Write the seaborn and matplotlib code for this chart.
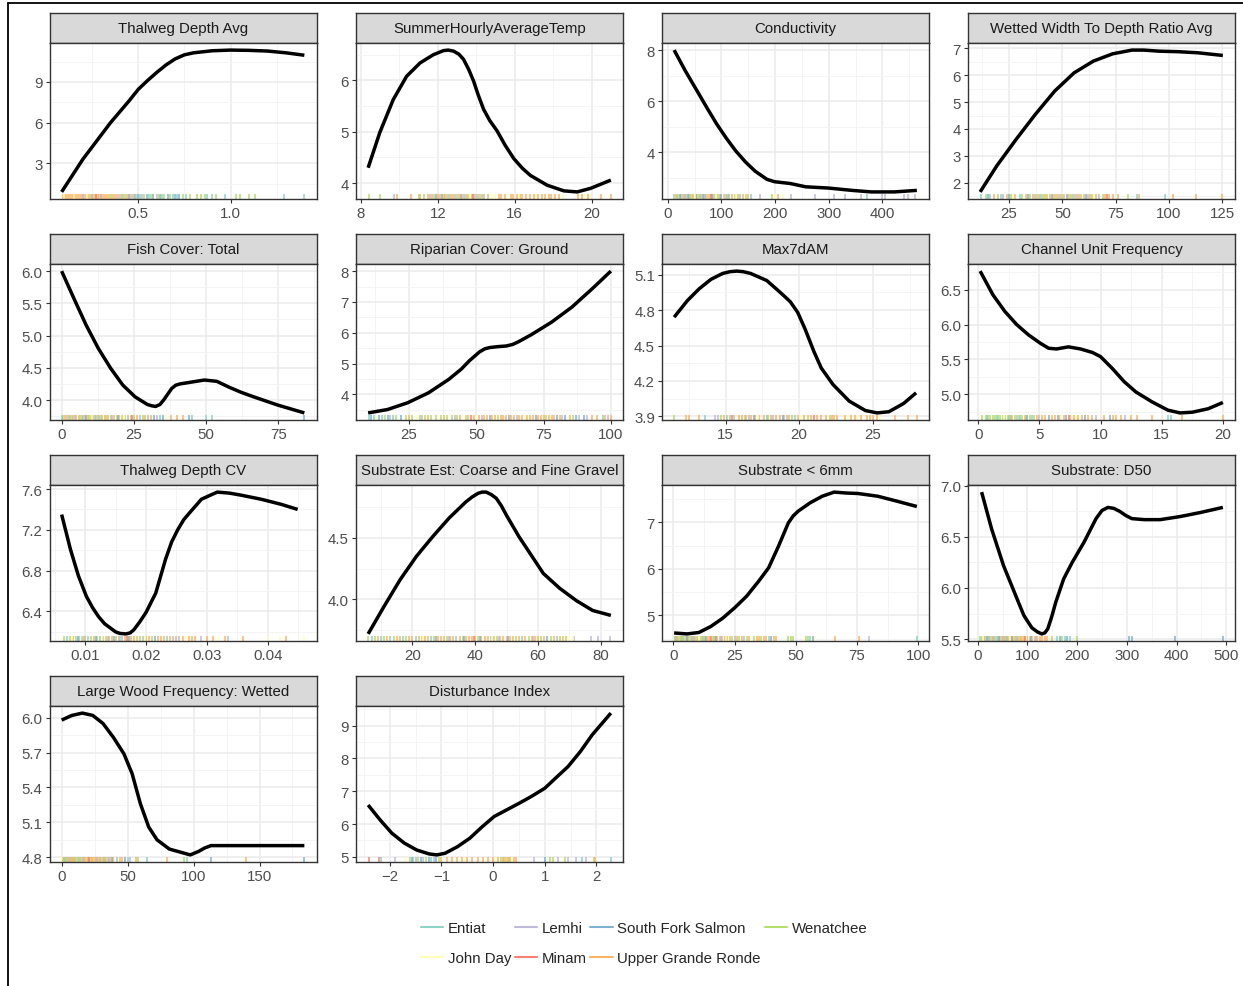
import numpy as np
import pandas as pd
import matplotlib
matplotlib.use("Agg")
import matplotlib.pyplot as plt
from matplotlib.lines import Line2D
import seaborn as sns

# ---------------------------------------------------------------- data
watersheds = ["Entiat", "John Day", "Lemhi", "Minam",
              "South Fork Salmon", "Upper Grande Ronde", "Wenatchee"]
ws_codes = ["ENT", "JD", "LEM", "MIN", "SFS", "UGR", "WEN"]
ws_colors = ["#8DD3C7", "#FFFFB3", "#BEBADA", "#FB8072",
             "#80B1D3", "#FDB462", "#B3DE69"]

# Thalweg Depth Avg
thalweg_avg_x = [0.085, 0.2, 0.35, 0.45, 0.5, 0.55, 0.6, 0.65, 0.7, 0.75, 0.8, 0.9, 1.0, 1.1, 1.2, 1.3, 1.4]
thalweg_avg_y = [0.89, 3.3, 6.0, 7.6, 8.45, 9.1, 9.7, 10.25, 10.7, 11.0, 11.15, 11.3, 11.35, 11.33, 11.28, 11.15, 10.97]
thalweg_avg_rug = {
    "UGR": [0.09, 0.10, 0.11, 0.12, 0.13, 0.14, 0.15, 0.16, 0.17, 0.18, 0.19, 0.20, 0.21, 0.22, 0.23, 0.24,
            0.25, 0.26, 0.27, 0.28, 0.29, 0.30, 0.31, 0.32, 0.33, 0.34, 0.36, 0.37, 0.38, 0.40, 0.42, 0.44, 0.46],
    "JD": [0.10, 0.15, 0.22, 0.35, 0.41],
    "MIN": [0.27],
    "LEM": [0.20, 0.30, 0.39, 0.47, 0.52, 0.60],
    "SFS": [0.45, 0.48, 0.50, 0.55, 0.58, 0.62, 0.66, 0.70, 0.72],
    "WEN": [0.35, 0.43, 0.49, 0.53, 0.57, 0.61, 0.64, 0.67, 0.74, 0.78, 0.82, 0.84, 0.86, 0.92, 1.03, 1.05, 1.10, 1.13],
    "ENT": [0.25, 0.41, 0.51, 0.56, 0.63, 0.69, 0.71, 0.76, 0.87, 0.90, 0.97, 1.29, 1.40],
}

# SummerHourlyAverageTemp
summer_temp_x = [8.38, 8.99, 9.69, 10.38, 11.08, 11.77, 12.30, 12.55, 12.82, 13.1, 13.34, 13.6, 13.86, 14.1,
                 14.38, 14.7, 15.08, 15.5, 15.95, 16.4, 16.82, 17.69, 18.56, 19.25, 19.95, 21.0]
summer_temp_y = [4.30, 4.99, 5.63, 6.08, 6.34, 6.50, 6.58, 6.59, 6.57, 6.51, 6.41, 6.22, 5.99, 5.72,
                 5.44, 5.22, 5.02, 4.74, 4.48, 4.29, 4.15, 3.96, 3.85, 3.83, 3.90, 4.06]
summer_temp_rug = {
    "WEN": [8.4, 9.0, 11.0, 11.3, 11.8, 12.4, 13.0, 13.6, 14.2],
    "UGR": [9.9, 10.6, 11.1, 11.5, 11.7, 12.0, 12.1, 12.3, 12.5, 12.7, 12.8, 13.1, 13.3, 13.5, 13.8, 14.0,
            14.3, 14.6, 15.2, 15.3, 15.5, 15.8, 15.9, 16.1, 16.3, 16.4, 16.6, 16.8, 17.0, 17.2, 17.4, 17.6,
            17.8, 17.9, 18.1, 18.3, 19.3, 19.5, 19.8, 20.5, 21.0],
    "LEM": [9.7, 11.6, 12.9, 14.1],
    "SFS": [11.9, 12.2, 13.2],
    "ENT": [12.6, 13.4, 13.9, 14.4],
    "JD": [13.7, 14.8, 15.0, 15.6, 16.2, 17.1, 18.5, 19.6, 19.9],
    "MIN": [13.85],
}

# Conductivity
conductivity_x = [12, 33, 55, 73, 91, 109, 127, 145, 163, 185, 199, 228, 257, 300, 343, 379, 422, 464]
conductivity_y = [8.0, 7.18, 6.39, 5.74, 5.11, 4.55, 4.04, 3.61, 3.25, 2.93, 2.84, 2.77, 2.64, 2.59, 2.50,
                  2.44, 2.44, 2.50]
conductivity_rug = {
    "UGR": [15, 20, 28, 35, 42, 48, 55, 62, 68, 72, 78, 85, 92, 98, 104, 112, 120, 130, 140, 150, 205],
    "ENT": [12, 25, 40, 60, 88, 115, 135, 155, 372],
    "WEN": [18, 30, 45, 58, 75, 95, 110, 125, 145, 195],
    "SFS": [22, 38, 52, 65, 82, 100],
    "LEM": [33, 70, 108, 172, 230, 275, 310, 330, 360, 400, 405, 440, 448, 460],
    "JD": [50, 90, 128, 200, 215],
    "MIN": [80],
}

# Wetted Width To Depth Ratio Avg
wetted_ratio_x = [11.4, 19.2, 28.3, 37.3, 46.4, 55.5, 64.6, 73.6, 82.7, 88.2, 95.4, 104.5, 113.6, 125.4]
wetted_ratio_y = [1.65, 2.62, 3.61, 4.54, 5.41, 6.09, 6.53, 6.80, 6.94, 6.94, 6.90, 6.88, 6.84, 6.74]
wetted_ratio_rug = {
    "ENT": [12, 16, 22, 30, 40, 55, 85, 98],
    "UGR": [18, 24, 28, 33, 36, 39, 42, 44, 46, 48, 51, 53, 56, 58, 60, 63, 66, 70, 72, 74, 76, 86, 102, 113, 125],
    "WEN": [14, 20, 26, 31, 35, 38, 41, 43, 47, 50, 54, 59, 64, 69, 81],
    "SFS": [15, 25, 34, 45, 52, 61],
    "LEM": [21, 37, 49, 57, 62, 67],
    "JD": [27, 65],
    "MIN": [71],
}

# Fish Cover: Total
fish_cover_x = [0, 4.2, 8.5, 12.7, 17, 21.2, 25.4, 29.7, 31.2, 32.5, 34.0, 35.3, 36.7, 38.1, 39.5, 41, 45.2,
                49.4, 53.7, 57.9, 62.1, 66.4, 74.9, 84]
fish_cover_y = [6.0, 5.58, 5.16, 4.80, 4.49, 4.23, 4.05, 3.93, 3.91, 3.90, 3.93, 4.0, 4.09, 4.18, 4.23, 4.25,
                4.28, 4.31, 4.29, 4.20, 4.12, 4.05, 3.92, 3.80]
fish_cover_rug = {
    "UGR": [1, 2, 3, 4, 5, 6, 7, 8, 9, 10, 11, 12, 14, 15, 16, 18, 20, 22, 24, 26, 29, 31, 38, 40, 42],
    "WEN": [0.5, 3.5, 6.5, 9.5, 12.5, 13.5, 15.5, 17, 19, 21, 25, 28],
    "ENT": [0, 2.5, 7.5, 11.5, 23, 30, 34, 45, 50, 52],
    "LEM": [4.5, 13, 17.5, 27, 33],
    "SFS": [8.5, 19.5, 32, 35, 44, 84],
    "JD": [10.5, 21.5, 36],
    "MIN": [24.5],
}

# Riparian Cover: Ground
riparian_x = [9.8, 17, 24.5, 32.2, 39.8, 44.4, 47.4, 51.2, 53.2, 55, 58, 61.1, 63.5, 65.7, 70.3, 77.9, 85.5,
              93.1, 100]
riparian_y = [3.40, 3.51, 3.73, 4.05, 4.49, 4.82, 5.09, 5.38, 5.48, 5.52, 5.55, 5.57, 5.62, 5.71, 5.93, 6.34,
              6.83, 7.43, 8.0]
riparian_rug = {
    "ENT": [10, 12, 15, 19, 97],
    "SFS": [11, 14, 17, 22, 55, 62, 72, 80, 83, 87, 90],
    "JD": [13, 28, 50, 68],
    "WEN": [16, 20, 24, 26, 29, 31, 33, 35, 37, 39, 41, 43, 46, 58, 76, 86],
    "UGR": [25, 32, 38, 44, 47, 49, 51, 53, 54, 56, 57, 59, 60, 61, 63, 64, 66, 67, 69, 70, 71, 73, 74, 75,
            77, 78, 79, 81, 85, 93, 95, 98, 100],
    "LEM": [18, 30, 42, 52, 65, 82, 88, 91, 99],
    "MIN": [48],
}

# Max7dAM
max7dam_x = [11.5, 12.4, 13.2, 14.0, 14.8, 15.3, 15.75, 16.2, 16.7, 17.8, 18.8, 19.4, 19.9, 20.4, 21.0, 21.5,
             22.3, 23.4, 24.5, 25.3, 26.1, 27.1, 27.95]
max7dam_y = [4.74, 4.88, 4.98, 5.06, 5.11, 5.125, 5.13, 5.125, 5.11, 5.05, 4.94, 4.87, 4.78, 4.64, 4.45, 4.31,
             4.17, 4.03, 3.95, 3.93, 3.94, 4.01, 4.10]
max7dam_rug = {
    "WEN": [11.5, 14.7, 16.3, 17.9, 19.5, 20.6, 22.1],
    "UGR": [12.3, 12.5, 13.2, 14.9, 15.3, 15.6, 15.9, 16.1, 16.4, 16.7, 17.0, 17.3, 17.6, 18.1, 18.4, 18.7,
            19.0, 19.3, 19.9, 20.3, 20.8, 21.2, 21.5, 21.8, 22.2, 22.4, 22.6, 23.1, 23.5, 23.8, 24.2, 24.6,
            24.8, 25.0, 25.3, 26.5, 27.4, 28.0],
    "ENT": [13.6, 15.1, 17.8, 19.7],
    "LEM": [14.3, 14.5, 16.6, 18.2, 19.2],
    "SFS": [15.4, 16.9, 18.9],
    "JD": [17.2, 20.1, 23.3, 24.0, 25.5],
    "MIN": [21.0],
}

# Channel Unit Frequency
channel_unit_x = [0.16, 1.2, 2.18, 3.15, 4.13, 5.1, 5.76, 6.4, 7.38, 8.36, 9.33, 10.0, 10.96, 11.93, 12.9,
                  14.2, 15.5, 16.5, 17.5, 18.8, 20.0]
channel_unit_y = [6.77, 6.43, 6.19, 6.0, 5.85, 5.73, 5.66, 5.65, 5.68, 5.65, 5.60, 5.54, 5.37, 5.18, 5.03,
                  4.89, 4.77, 4.73, 4.74, 4.79, 4.88]
channel_unit_rug = {
    "WEN": [0.3, 0.6, 0.8, 1.0, 1.2, 1.4, 1.6, 1.8, 2.0, 2.2, 2.4, 2.6, 2.8, 3.0, 3.3, 3.6, 3.9, 4.2, 4.6],
    "ENT": [0.7, 1.5, 2.5, 3.4, 4.4, 15.5, 15.8],
    "UGR": [2.7, 3.8, 4.8, 5.2, 5.5, 6.0, 6.3, 6.7, 7.0, 7.5, 7.8, 8.2, 8.5, 9.0, 9.3, 10.3, 11.0, 11.3,
            11.7, 12.5, 13.0, 14.2, 16.7, 20.0],
    "SFS": [4.0, 5.8, 6.5, 7.2, 8.7, 10.8],
    "LEM": [3.2, 5.0, 9.6, 12.0],
    "JD": [2.1, 6.8, 8.0],
    "MIN": [7.4],
}

# Thalweg Depth CV
thalweg_cv_x = [0.00615, 0.00759, 0.0089, 0.0102, 0.0112, 0.0122, 0.0132, 0.0141, 0.0150, 0.0157, 0.0167,
                0.0174, 0.018, 0.019, 0.020, 0.0216, 0.0232, 0.0242, 0.0252, 0.0262, 0.0272, 0.0291, 0.0317,
                0.0337, 0.0356, 0.0389, 0.0422, 0.0449]
thalweg_cv_y = [7.35, 7.01, 6.75, 6.55, 6.44, 6.35, 6.28, 6.24, 6.20, 6.185, 6.18, 6.19, 6.22, 6.30, 6.39,
                6.58, 6.91, 7.08, 7.20, 7.30, 7.37, 7.50, 7.57, 7.56, 7.54, 7.50, 7.45, 7.40]
thalweg_cv_rug = {
    "WEN": [0.0065, 0.0075, 0.0085, 0.0095, 0.011, 0.012, 0.0135, 0.015, 0.017, 0.0185, 0.021],
    "ENT": [0.007, 0.009, 0.0105, 0.0125, 0.016, 0.0195, 0.0235],
    "UGR": [0.008, 0.010, 0.0115, 0.013, 0.014, 0.0145, 0.0155, 0.0165, 0.0175, 0.018, 0.019, 0.020,
            0.0205, 0.022, 0.0225, 0.023, 0.024, 0.025, 0.026, 0.027, 0.0275, 0.028, 0.030, 0.031,
            0.033, 0.036, 0.043],
    "SFS": [0.0088, 0.0118, 0.0148, 0.0172, 0.0215],
    "LEM": [0.0098, 0.0138, 0.0158, 0.0245, 0.0255, 0.029, 0.0335],
    "JD": [0.0078, 0.0128, 0.0198, 0.0265, 0.032, 0.040, 0.042, 0.046],
    "MIN": [0.0168],
}

# Substrate Est: Coarse and Fine Gravel
gravel_x = [5.9, 10.9, 16.1, 21.3, 26.5, 31.7, 37, 39.0, 40.9, 42.2, 43.5, 45.1, 46.7, 48.3, 50, 53.9, 57.8,
            61.7, 66.9, 72.2, 77.4, 83.2]
gravel_y = [3.72, 3.94, 4.16, 4.35, 4.51, 4.66, 4.79, 4.83, 4.86, 4.87, 4.87, 4.85, 4.82, 4.76, 4.68, 4.51,
            4.36, 4.21, 4.09, 3.99, 3.91, 3.87]
gravel_rug = {
    "WEN": [6, 8, 11, 14, 18, 23, 27, 31, 36, 41, 47, 53, 57, 61, 64, 68],
    "ENT": [7, 10, 13, 17, 21, 26, 34, 45, 55, 66],
    "UGR": [9, 12, 15, 16, 19, 20, 22, 24, 25, 28, 29, 30, 32, 33, 35, 37, 38, 39, 40, 42, 43, 44, 46, 48,
            49, 50, 51, 52, 54, 56, 58, 59, 60, 62, 65, 67, 69],
    "SFS": [27.5, 36.5, 41.5, 50.5, 63],
    "LEM": [31.5, 47.5, 58.5, 71.5, 77, 79, 83],
    "JD": [23.5, 45.5, 70, 71],
    "MIN": [39.5],
}

# Substrate < 6mm
fines_x = [0.3, 5.5, 10.4, 15.3, 20.2, 25, 29.9, 34.8, 38.9, 42.9, 47, 49, 51, 55.9, 60.8, 65.7, 70.6, 75.4,
           83.6, 91.7, 99.5]
fines_y = [4.62, 4.60, 4.63, 4.76, 4.94, 5.16, 5.41, 5.73, 6.02, 6.48, 6.99, 7.14, 7.24, 7.42, 7.56, 7.65,
           7.63, 7.62, 7.56, 7.45, 7.34]
fines_rug = {
    "UGR": [0.5, 1, 1.5, 2, 3, 4, 5, 6, 7, 8, 9, 10, 11, 12, 13, 14, 15, 16, 17, 18, 19, 20, 21, 22, 24, 26,
            28, 31, 34, 35, 37, 38, 41, 42, 66, 76],
    "WEN": [0.8, 2.5, 4.5, 6.5, 9.5, 12.5, 16.5, 23, 27, 30, 33, 36, 47, 48, 49, 54, 55],
    "ENT": [1.2, 3.5, 7.5, 11.5, 25, 39, 56, 99.5],
    "SFS": [5.5, 13.5, 17.5, 40, 57],
    "LEM": [8.5, 19.5, 29, 80],
    "JD": [10.5, 21.5, 58],
    "MIN": [15.5],
}

# Substrate: D50
d50_x = [8, 28, 52, 77, 93, 109, 120, 129, 135, 141, 149, 157, 173, 190, 214, 238, 250, 262, 274, 286, 298,
         310, 335, 367, 407, 448, 493]
d50_y = [6.94, 6.58, 6.22, 5.92, 5.73, 5.61, 5.57, 5.55, 5.56, 5.60, 5.72, 5.86, 6.09, 6.25, 6.45, 6.68,
         6.76, 6.79, 6.78, 6.75, 6.71, 6.68, 6.67, 6.67, 6.70, 6.74, 6.79]
d50_rug = {
    "WEN": [5, 12, 20, 28, 35, 45, 55, 65, 75, 85, 150, 170, 200],
    "UGR": [15, 25, 32, 40, 48, 52, 58, 62, 68, 72, 78, 82, 88, 92, 100, 105, 110, 115, 120, 125, 130, 135, 140],
    "ENT": [8, 22, 38, 60, 95, 160, 175, 185],
    "SFS": [18, 42, 70, 108, 165, 180, 305, 310, 397, 493],
    "LEM": [30, 50, 80, 118],
    "JD": [10, 65, 98],
    "MIN": [95],
}

# Large Wood Frequency: Wetted
large_wood_x = [0, 7.8, 15.7, 23.6, 31.4, 39.3, 47.2, 53.4, 59.7, 66, 72.3, 81.7, 91.2, 97.5, 103.8, 108.5,
                113.2, 125.8, 157.2, 184]
large_wood_y = [5.98, 6.02, 6.04, 6.02, 5.95, 5.83, 5.69, 5.52, 5.26, 5.06, 4.95, 4.87, 4.84, 4.82, 4.85,
                4.88, 4.90, 4.90, 4.90, 4.90]
large_wood_rug = {
    "JD": [0.5, 3, 7, 12, 40],
    "WEN": [1, 2, 4, 5, 6, 8, 9, 10, 11, 13, 15, 17, 19, 21, 24, 27, 30, 34, 58, 93],
    "UGR": [1.5, 3.5, 5.5, 7.5, 9.5, 14, 16, 18, 20, 22, 23, 25, 26, 28, 29, 31, 33, 35, 37, 39, 44, 46, 56,
            80, 140],
    "ENT": [2.5, 12.5, 32, 42, 52, 65, 95],
    "LEM": [6.5, 16.5, 26.5, 36, 50],
    "SFS": [38, 48, 113, 184],
    "MIN": [20.5],
}

# Disturbance Index
disturbance_x = [-2.42, -2.19, -1.96, -1.72, -1.48, -1.24, -1.09, -0.93, -0.69, -0.45, -0.21, 0.02, 0.26,
                 0.5, 0.74, 1.0, 1.21, 1.45, 1.69, 1.92, 2.28]
disturbance_y = [6.58, 6.13, 5.72, 5.42, 5.21, 5.09, 5.06, 5.11, 5.31, 5.57, 5.92, 6.23, 6.43,
                 6.63, 6.84, 7.09, 7.40, 7.75, 8.21, 8.72, 9.38]
disturbance_rug = {
    "MIN": [-2.4, -2.2],
    "ENT": [-2.18, -1.55, -1.2, 1.72, 2.28],
    "LEM": [-1.9, -1.5, -1.35, -1.15, 0.8, 1.25, 1.45, 1.6, 1.8],
    "WEN": [-1.6, -1.45, -1.3, -1.05, 0.15, 0.25, 0.3, 1.1, 1.15, 1.4, 1.95],
    "SFS": [-1.58, -1.4, -1.25, -1.1, 1.0],
    "JD": [-1.7, -1.0, -0.55, 0.05, 0.35],
    "UGR": [-1.0, -0.9, -0.8, -0.7, -0.6, -0.5, -0.4, -0.3, -0.2, -0.1, 0.0, 0.1, 0.2, 0.22, 0.28, 0.32,
            0.4, 0.45, 1.98],
}

# facet titles, curves, rugs, (x breaks, decimals), (y breaks, decimals)
panels = [
    ("Thalweg Depth Avg", thalweg_avg_x, thalweg_avg_y, thalweg_avg_rug, ([0.5, 1.0], 1), ([3, 6, 9], 0)),
    ("SummerHourlyAverageTemp", summer_temp_x, summer_temp_y, summer_temp_rug, ([8, 12, 16, 20], 0), ([4, 5, 6], 0)),
    ("Conductivity", conductivity_x, conductivity_y, conductivity_rug, ([0, 100, 200, 300, 400], 0), ([4, 6, 8], 0)),
    ("Wetted Width To Depth Ratio Avg", wetted_ratio_x, wetted_ratio_y, wetted_ratio_rug,
     ([25, 50, 75, 100, 125], 0), ([2, 3, 4, 5, 6, 7], 0)),
    ("Fish Cover: Total", fish_cover_x, fish_cover_y, fish_cover_rug, ([0, 25, 50, 75], 0),
     ([4.0, 4.5, 5.0, 5.5, 6.0], 1)),
    ("Riparian Cover: Ground", riparian_x, riparian_y, riparian_rug, ([25, 50, 75, 100], 0), ([4, 5, 6, 7, 8], 0)),
    ("Max7dAM", max7dam_x, max7dam_y, max7dam_rug, ([15, 20, 25], 0), ([3.9, 4.2, 4.5, 4.8, 5.1], 1)),
    ("Channel Unit Frequency", channel_unit_x, channel_unit_y, channel_unit_rug, ([0, 5, 10, 15, 20], 0),
     ([5.0, 5.5, 6.0, 6.5], 1)),
    ("Thalweg Depth CV", thalweg_cv_x, thalweg_cv_y, thalweg_cv_rug, ([0.01, 0.02, 0.03, 0.04], 2),
     ([6.4, 6.8, 7.2, 7.6], 1)),
    ("Substrate Est: Coarse and Fine Gravel", gravel_x, gravel_y, gravel_rug, ([20, 40, 60, 80], 0),
     ([4.0, 4.5], 1)),
    ("Substrate < 6mm", fines_x, fines_y, fines_rug, ([0, 25, 50, 75, 100], 0), ([5, 6, 7], 0)),
    ("Substrate: D50", d50_x, d50_y, d50_rug, ([0, 100, 200, 300, 400, 500], 0), ([5.5, 6.0, 6.5, 7.0], 1)),
    ("Large Wood Frequency: Wetted", large_wood_x, large_wood_y, large_wood_rug, ([0, 50, 100, 150], 0),
     ([4.8, 5.1, 5.4, 5.7, 6.0], 1)),
    ("Disturbance Index", disturbance_x, disturbance_y, disturbance_rug, ([-2, -1, 0, 1, 2], 0),
     ([5, 6, 7, 8, 9], 0)),
]

# ---------------------------------------------------------------- style
sns.set_theme(style="white")
plt.rcParams["font.family"] = ["Liberation Sans", "DejaVu Sans"]

name_of = dict(zip(ws_codes, watersheds))
palette = dict(zip(watersheds, ws_colors))

W, H = 1243, 987
fig = plt.figure(figsize=(W / 100, H / 100), dpi=100)

col_left = [49.5, 356.0, 662.0, 968.0]
row_top = [14.0, 235.0, 456.0, 677.0]
panel_w, strip_h, panel_h = 267.0, 30.0, 156.0
dark = "#333333"
fs = 10.8


def fmt(v, d):
    return f"{v:.{d}f}".replace("-", "\u2212")


def minor_breaks(major, lo, hi):
    step = major[1] - major[0]
    cand = [major[0] - step / 2] + [m + step / 2 for m in major]
    return [c for c in cand if lo <= c <= hi]


for i, (title, cx, cy, rug, (xb, xd), (yb, yd)) in enumerate(panels):
    r, c = divmod(i, 4)
    left, top = col_left[c], row_top[r]

    # strip
    sax = fig.add_axes([left / W, 1 - (top + strip_h) / H, panel_w / W, strip_h / H])
    sax.set_facecolor("#D9D9D9")
    sax.set_xticks([])
    sax.set_yticks([])
    for sp in sax.spines.values():
        sp.set_color(dark)
        sp.set_linewidth(1.0)
    sax.text(0.5, 0.5, title, ha="center", va="center", fontsize=fs, color="#1A1A1A",
             transform=sax.transAxes)

    # panel
    ax = fig.add_axes([left / W, 1 - (top + strip_h + panel_h) / H, panel_w / W, panel_h / H])
    ax.set_facecolor("white")

    curve = pd.DataFrame({"x": cx, "y": cy})
    rug_df = pd.DataFrame([(v, name_of[k]) for k, vals in rug.items() for v in vals],
                          columns=["x", "watershed"])

    all_x = np.concatenate([curve["x"].values, rug_df["x"].values])
    x0, x1 = all_x.min(), all_x.max()
    y0, y1 = curve["y"].min(), curve["y"].max()
    xpad, ypad = 0.05 * (x1 - x0), 0.05 * (y1 - y0)
    xlim = (x0 - xpad, x1 + xpad)
    ylim = (y0 - ypad, y1 + ypad)

    sns.rugplot(data=rug_df, x="x", hue="watershed", palette=palette, height=0.03,
                linewidth=1.1, alpha=1.0, legend=False, expand_margins=False, ax=ax)
    sns.lineplot(data=curve, x="x", y="y", color="black", linewidth=2.5, sort=False,
                 estimator=None, ax=ax, solid_joinstyle="round", solid_capstyle="butt")

    ax.set_xlim(*xlim)
    ax.set_ylim(*ylim)
    ax.set_xticks(xb)
    ax.set_xticklabels([fmt(v, xd) for v in xb])
    ax.set_yticks(yb)
    ax.set_yticklabels([fmt(v, yd) for v in yb])
    ax.set_xticks(minor_breaks(xb, *xlim), minor=True)
    ax.set_yticks(minor_breaks(yb, *ylim), minor=True)
    ax.set_xlim(*xlim)
    ax.set_ylim(*ylim)

    ax.grid(which="major", color="#EBEBEB", linewidth=1.1)
    ax.grid(which="minor", color="#F3F3F3", linewidth=0.6)
    ax.set_axisbelow(True)
    ax.tick_params(which="major", length=2.6, width=0.8, color=dark, labelsize=fs,
                   labelcolor="#4D4D4D", pad=2.5, bottom=True, left=True)
    ax.tick_params(which="minor", length=0)
    for sp in ax.spines.values():
        sp.set_color(dark)
        sp.set_linewidth(1.0)
    ax.set_xlabel("")
    ax.set_ylabel("")

# legend
handles = [Line2D([], [], color=col, linewidth=1.5) for col in ws_colors]
fig.legend(handles, watersheds, ncol=4, loc="center", bbox_to_anchor=(644 / W, 1 - 944 / H),
           frameon=False, fontsize=fs, handlelength=1.5, handletextpad=0.3,
           columnspacing=0.25, labelspacing=1.1)

# frame lines along the top and left edges
fig.add_artist(Line2D([8 / W, 8 / W], [0, 1 - 4 / H], transform=fig.transFigure,
                      color="black", linewidth=1.3))
fig.add_artist(Line2D([8 / W, 1], [1 - 4 / H, 1 - 4 / H], transform=fig.transFigure,
                      color="black", linewidth=1.3))

fig.savefig("out.png", dpi=100)
